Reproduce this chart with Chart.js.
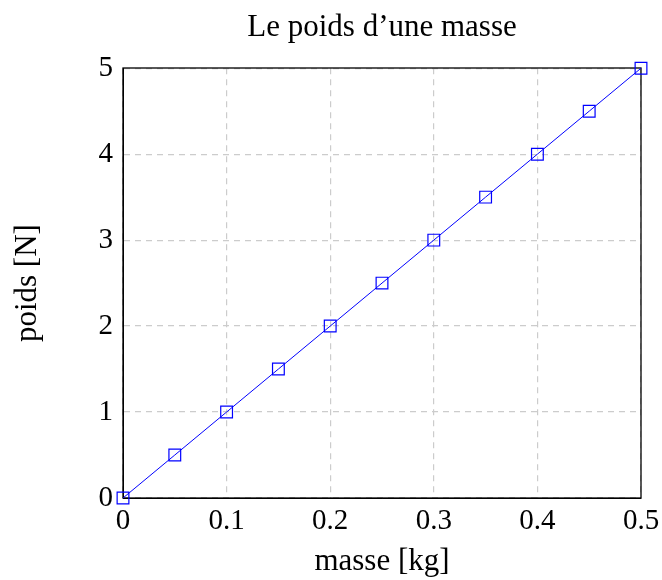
<!DOCTYPE html>
<html><head><meta charset="utf-8">
<script src="https://cdn.jsdelivr.net/npm/chart.js@4"></script>
<style>html,body{margin:0;padding:0;background:#fff}#wrap{width:662px;height:580px}</style>
</head><body><div id="wrap"><canvas id="c" width="662" height="580"></canvas></div>
<script>
const masses = [0, 0.05, 0.1, 0.15, 0.2, 0.25, 0.3, 0.35, 0.4, 0.45, 0.5];
const weights = [0, 0.5, 1, 1.5, 2, 2.5, 3, 3.5, 4, 4.5, 5];
const xTicks = [0, 0.1, 0.2, 0.3, 0.4, 0.5];
const yTicks = [0, 1, 2, 3, 4, 5];
const titleText = "Le poids d\u2019une masse";
const xLabel = "masse [kg]";
const yLabel = "poids [N]";

const FONT = "'Liberation Serif', 'DejaVu Serif', serif";
const boxPlugin = {
  id: 'box',
  beforeDatasetsDraw(chart) {
    const xs = chart.scales.x, ys = chart.scales.y, ctx = chart.ctx;
    const l = Math.round(xs.getPixelForValue(xs.min)), r = Math.round(xs.getPixelForValue(xs.max));
    const t = Math.round(ys.getPixelForValue(ys.max)), b = Math.round(ys.getPixelForValue(ys.min));
    ctx.save();
    ctx.strokeStyle = '#000'; ctx.lineWidth = 1.3;
    ctx.strokeRect(l, t, r - l, b - t);
    ctx.restore();
  }
};
new Chart(document.getElementById('c'), {
  type: 'scatter',
  data: {
    datasets: [{
      data: masses.map((m, i) => ({x: m, y: weights[i]})),
      showLine: true,
      borderColor: '#0000ff',
      borderWidth: 1,
      pointStyle: 'rect',
      pointRadius: 8.3,
      pointHoverRadius: 8.3,
      pointBorderWidth: 1.2,
      pointBorderColor: '#0000ff',
      pointBackgroundColor: 'rgba(0,0,0,0)',
      clip: false,
      tension: 0
    }]
  },
  options: {
    responsive: false,
    animation: false,
    layout: {padding: {left: 0, right: 21, top: 0, bottom: 0}},
    plugins: {
      legend: {display: false},
      tooltip: {enabled: false},
      title: {display: true, fullSize: false, text: titleText, color: '#000', font: {family: FONT, size: 31, weight: 'normal', lineHeight: 1.2}, padding: {top: 9, bottom: 22}}
    },
    scales: {
      x: {
        type: 'linear', min: 0, max: 0.5,
        afterBuildTicks: s => { s.ticks = xTicks.map(v => ({value: v})); },
        afterFit: s => { s.height = 82; s.paddingLeft = 0; s.paddingRight = 0; },
        ticks: {color: '#000', font: {family: FONT, size: 29}, padding: 6, maxRotation: 0, callback: v => String(v)},
        grid: {color: '#cccccc', drawTicks: false, lineWidth: 1.2},
        border: {display: true, color: '#000', dash: [6, 5]},
        title: {display: true, text: xLabel, color: '#000', font: {family: FONT, size: 31, lineHeight: 1.2}, padding: {top: 0, bottom: 0}}
      },
      y: {
        type: 'linear', min: 0, max: 5,
        afterBuildTicks: s => { s.ticks = yTicks.map(v => ({value: v})); },
        afterFit: s => { s.width = 123; s.paddingTop = 0; s.paddingBottom = 0; },
        ticks: {color: '#000', font: {family: FONT, size: 29}, padding: 10, callback: v => String(v)},
        grid: {color: '#cccccc', drawTicks: false, lineWidth: 1.2},
        border: {display: true, color: '#000', dash: [6, 5]},
        title: {display: true, text: yLabel, color: '#000', font: {family: FONT, size: 31, lineHeight: 1.2}, padding: {top: 9, bottom: 0}}
      }
    }
  },
  plugins: [boxPlugin]
});
</script></body></html>
